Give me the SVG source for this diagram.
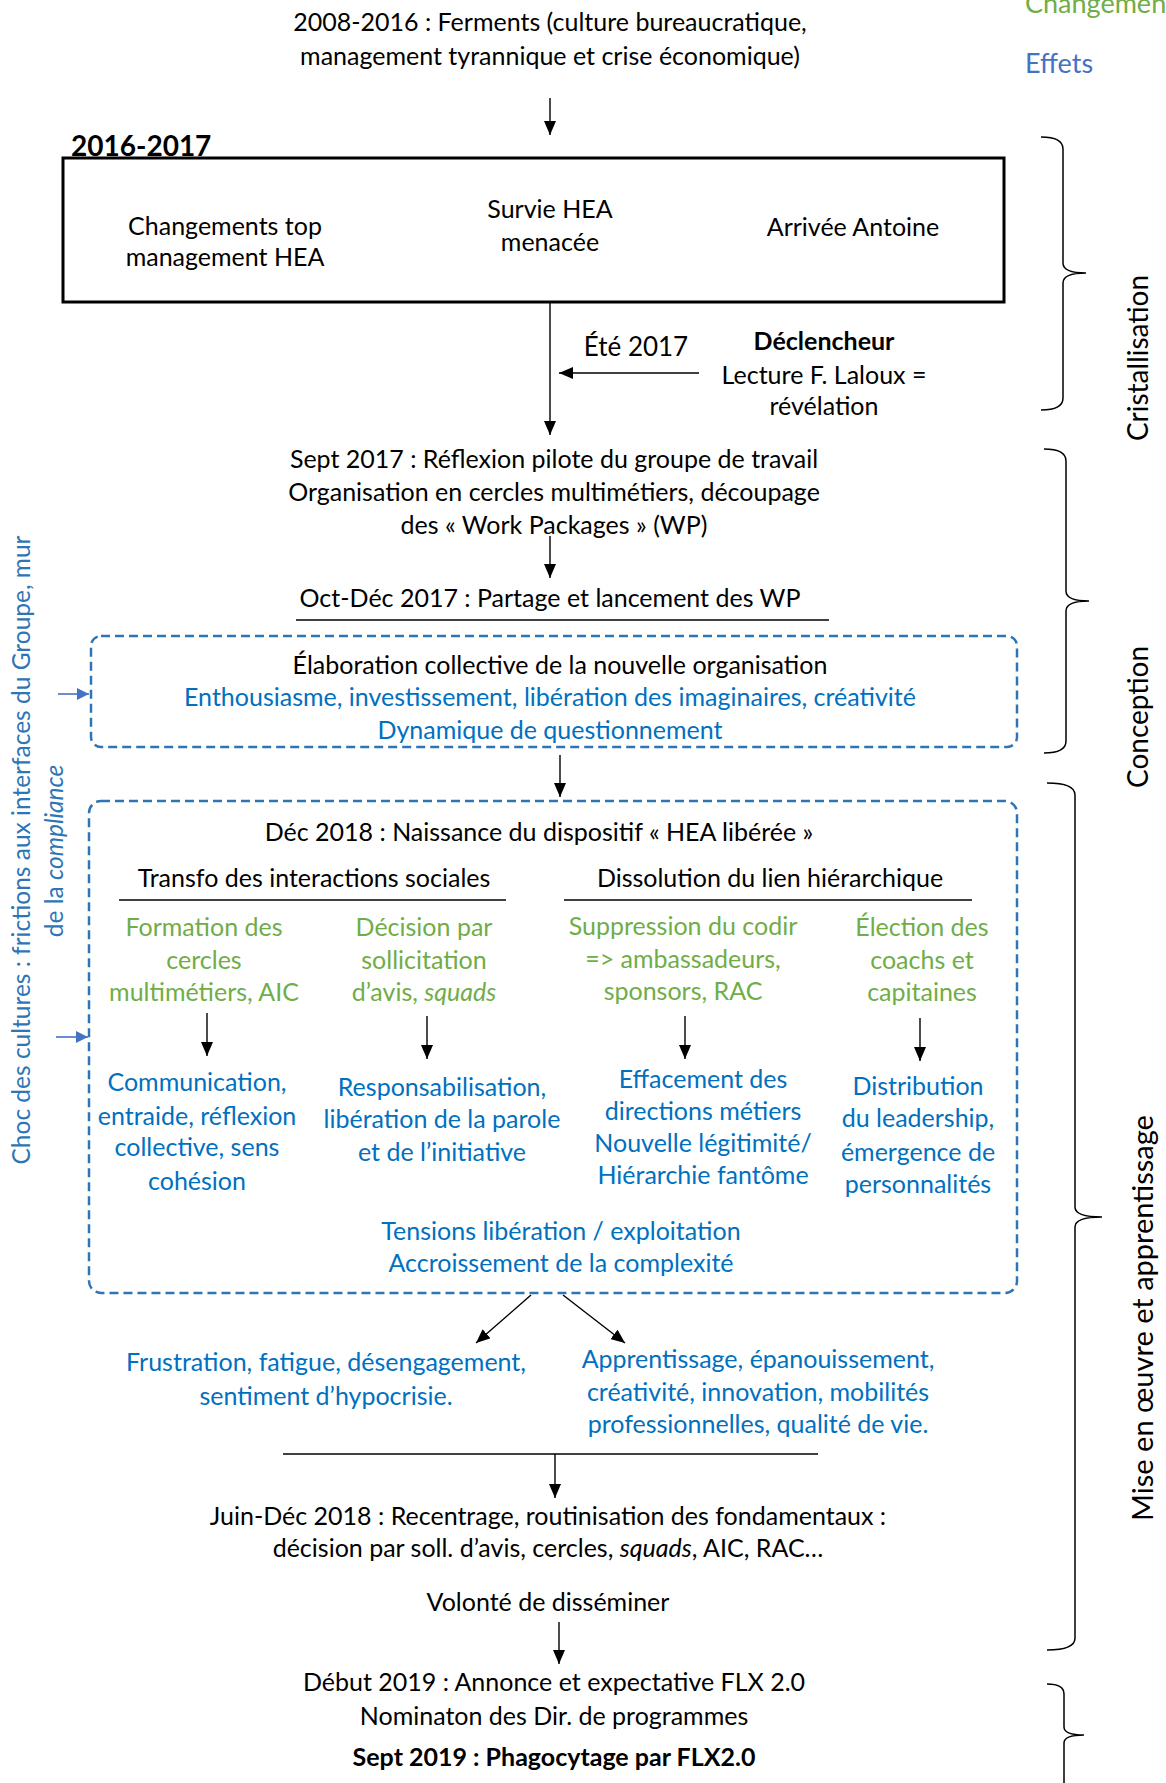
<svg xmlns="http://www.w3.org/2000/svg" width="1166" height="1783" viewBox="0 0 1166 1783">
<defs>
<style>
text{font-family:"Lato","Liberation Sans",sans-serif;font-size:25px;fill:#000;text-anchor:middle}
.g{fill:#70AD47}
.b{fill:#0070C0}
.bd{font-weight:bold}
.it{font-style:italic}
.lab{font-size:28px}
.side{fill:#2E75B6;font-size:24.5px}
.ln{stroke:#000;stroke-width:1.4;fill:none}
.arr{stroke:#000;stroke-width:1.4;fill:none;marker-end:url(#ah)}
.barr{stroke:#4472C4;stroke-width:1.6;fill:none;marker-end:url(#bh)}
.dash{fill:none;stroke:#2E75B6;stroke-width:2.5;stroke-dasharray:9 5}
.brace{fill:none;stroke:#000;stroke-width:1.5}
.ul{stroke:#404040;stroke-width:2}
</style>
<marker id="ah" markerUnits="userSpaceOnUse" markerWidth="15" markerHeight="12" refX="14" refY="6" orient="auto"><path d="M0,0 L14,6 L0,12 z" fill="#000"/></marker>
<marker id="bh" markerUnits="userSpaceOnUse" markerWidth="13" markerHeight="12" refX="12" refY="6" orient="auto"><path d="M0,0 L12,6 L0,12 z" fill="#4472C4"/></marker>
</defs>
<rect width="1166" height="1783" fill="#fff"/>

<g id="legend">
<text x="1025" y="13" class="lab g" style="text-anchor:start;font-size:27px">Changements</text>
<text x="1025" y="73" style="text-anchor:start;font-size:27px;fill:#4472C4">Effets</text>
</g>

<g id="connectors">
<line class="arr" x1="550" y1="98" x2="550" y2="135"/>
<line class="arr" x1="550" y1="302" x2="550" y2="435"/>
<line class="arr" x1="699" y1="373" x2="559" y2="373"/>
<line class="arr" x1="550" y1="536" x2="550" y2="578"/>
<line class="arr" x1="560" y1="755" x2="560" y2="797"/>
<line class="arr" x1="207" y1="1013" x2="207" y2="1056"/>
<line class="arr" x1="427" y1="1016" x2="427" y2="1059"/>
<line class="arr" x1="685" y1="1016" x2="685" y2="1059"/>
<line class="arr" x1="920" y1="1018" x2="920" y2="1061"/>
<line class="arr" x1="531" y1="1295" x2="476" y2="1343"/>
<line class="arr" x1="563" y1="1295" x2="625" y2="1343"/>
<line class="ln" x1="283" y1="1454" x2="818" y2="1454"/>
<line class="arr" x1="555" y1="1454" x2="555" y2="1498"/>
<line class="arr" x1="559" y1="1622" x2="559" y2="1664"/>
<line class="barr" x1="58" y1="694" x2="89" y2="694"/>
<line class="barr" x1="56" y1="1037" x2="88" y2="1037"/>
</g>

<g id="ferments">
<text x="550" y="31">2008-2016 : Ferments (culture bureaucratique,</text>
<text x="550" y="65">management tyrannique et crise économique)</text>
</g>

<g id="box2016">
<text x="71" y="156" class="bd" style="text-anchor:start;font-size:28px">2016-2017</text>
<rect x="63" y="158" width="941" height="144" fill="none" stroke="#000" stroke-width="3"/>
<text x="225" y="235">Changements top</text>
<text x="225" y="266">management HEA</text>
<text x="550" y="218">Survie HEA</text>
<text x="550" y="251">menacée</text>
<text x="853" y="236">Arrivée Antoine</text>
</g>

<g id="declencheur">
<text x="636" y="356" style="font-size:26px">Été 2017</text>
<text x="824" y="350" class="bd">Déclencheur</text>
<text x="824" y="384">Lecture F. Laloux =</text>
<text x="824" y="415">révélation</text>
</g>

<g id="sept2017">
<text x="554" y="468">Sept 2017 : Réflexion pilote du groupe de travail</text>
<text x="554" y="501">Organisation en cercles multimétiers, découpage</text>
<text x="554" y="534">des « Work Packages » (WP)</text>
</g>

<g id="octdec2017">
<text x="550" y="607">Oct-Déc 2017 : Partage et lancement des WP</text>
<line class="ul" x1="296" y1="620" x2="829" y2="620"/>
</g>

<g id="elaboration">
<rect class="dash" x="91" y="636" width="926" height="111" rx="10"/>
<text x="560" y="674">Élaboration collective de la nouvelle organisation</text>
<text x="550" y="706" class="b">Enthousiasme, investissement, libération des imaginaires, créativité</text>
<text x="550" y="739" class="b">Dynamique de questionnement</text>
</g>

<g id="dec2018">
<rect class="dash" x="89" y="801" width="928" height="492" rx="12"/>
<text x="539" y="841">Déc 2018 : Naissance du dispositif « HEA libérée »</text>
<text x="314" y="887">Transfo des interactions sociales</text>
<line class="ul" x1="119" y1="900" x2="506" y2="900"/>
<text x="770" y="887">Dissolution du lien hiérarchique</text>
<line class="ul" x1="564" y1="900" x2="972" y2="900"/>
</g>

<g id="col1">
<text x="204" y="936" class="g">Formation des</text>
<text x="204" y="969" class="g">cercles</text>
<text x="204" y="1001" class="g">multimétiers, AIC</text>
<text x="197" y="1091" class="b">Communication,</text>
<text x="197" y="1125" class="b">entraide, réflexion</text>
<text x="197" y="1156" class="b">collective, sens</text>
<text x="197" y="1190" class="b">cohésion</text>
</g>

<g id="col2">
<text x="424" y="936" class="g">Décision par</text>
<text x="424" y="969" class="g">sollicitation</text>
<text x="424" y="1001" class="g">d’avis, <tspan class="it">squads</tspan></text>
<text x="442" y="1096" class="b">Responsabilisation,</text>
<text x="442" y="1128" class="b">libération de la parole</text>
<text x="442" y="1161" class="b">et de l’initiative</text>
</g>

<g id="col3">
<text x="683" y="935" class="g">Suppression du codir</text>
<text x="683" y="968" class="g">=&gt; ambassadeurs,</text>
<text x="683" y="1000" class="g">sponsors, RAC</text>
<text x="703" y="1088" class="b">Effacement des</text>
<text x="703" y="1120" class="b">directions métiers</text>
<text x="703" y="1152" class="b">Nouvelle légitimité/</text>
<text x="703" y="1184" class="b">Hiérarchie fantôme</text>
</g>

<g id="col4">
<text x="922" y="936" class="g">Élection des</text>
<text x="922" y="969" class="g">coachs et</text>
<text x="922" y="1001" class="g">capitaines</text>
<text x="918" y="1095" class="b">Distribution</text>
<text x="918" y="1127" class="b">du leadership,</text>
<text x="918" y="1161" class="b">émergence de</text>
<text x="918" y="1193" class="b">personnalités</text>
</g>

<g id="tensions">
<text x="561" y="1240" class="b">Tensions libération / exploitation</text>
<text x="561" y="1272" class="b">Accroissement de la complexité</text>
</g>

<g id="frustration">
<text x="326" y="1371" class="b">Frustration, fatigue, désengagement,</text>
<text x="326" y="1405" class="b">sentiment d’hypocrisie.</text>
</g>

<g id="apprentissage">
<text x="758" y="1368" class="b">Apprentissage, épanouissement,</text>
<text x="758" y="1401" class="b">créativité, innovation, mobilités</text>
<text x="758" y="1433" class="b">professionnelles, qualité de vie.</text>
</g>

<g id="juindec2018">
<text x="548" y="1525">Juin-Déc 2018 : Recentrage, routinisation des fondamentaux :</text>
<text x="548" y="1557">décision par soll. d’avis, cercles, <tspan class="it">squads</tspan>, AIC, RAC…</text>
<text x="548" y="1611">Volonté de disséminer</text>
</g>

<g id="debut2019">
<text x="554" y="1691">Début 2019 : Annonce et expectative FLX 2.0</text>
<text x="554" y="1725">Nominaton des Dir. de programmes</text>
<text x="554" y="1766" class="bd">Sept 2019 : Phagocytage par FLX2.0</text>
</g>

<g id="choc">
<text transform="translate(30,850) rotate(-90)" class="side">Choc des cultures : frictions aux interfaces du Groupe, mur</text>
<text transform="translate(63,851) rotate(-90)" class="side">de la <tspan class="it">compliance</tspan></text>
</g>

<g id="phases">
<path class="brace" d="M1041,137 Q1063,137 1063,149 L1063,263 Q1063,273 1086,273 Q1063,273 1063,283 L1063,398 Q1063,410 1041,410"/>
<text transform="translate(1148,358) rotate(-90)" class="lab">Cristallisation</text>
<path class="brace" d="M1044,449 Q1066,449 1066,461 L1066,591 Q1066,601 1089,601 Q1066,601 1066,611 L1066,741 Q1066,753 1044,753"/>
<text transform="translate(1148,717) rotate(-90)" class="lab">Conception</text>
<path class="brace" d="M1047,783 Q1075,783 1075,795 L1075,1207 Q1075,1217 1102,1217 Q1075,1217 1075,1227 L1075,1638 Q1075,1650 1047,1650"/>
<text transform="translate(1153,1318) rotate(-90)" class="lab" style="font-size:29px">Mise en œuvre et apprentissage</text>
<path class="brace" d="M1047,1684 Q1064,1684 1064,1694 L1064,1727 Q1064,1735 1084,1735 Q1064,1735 1064,1743 L1064,1783"/>
</g>
</svg>
